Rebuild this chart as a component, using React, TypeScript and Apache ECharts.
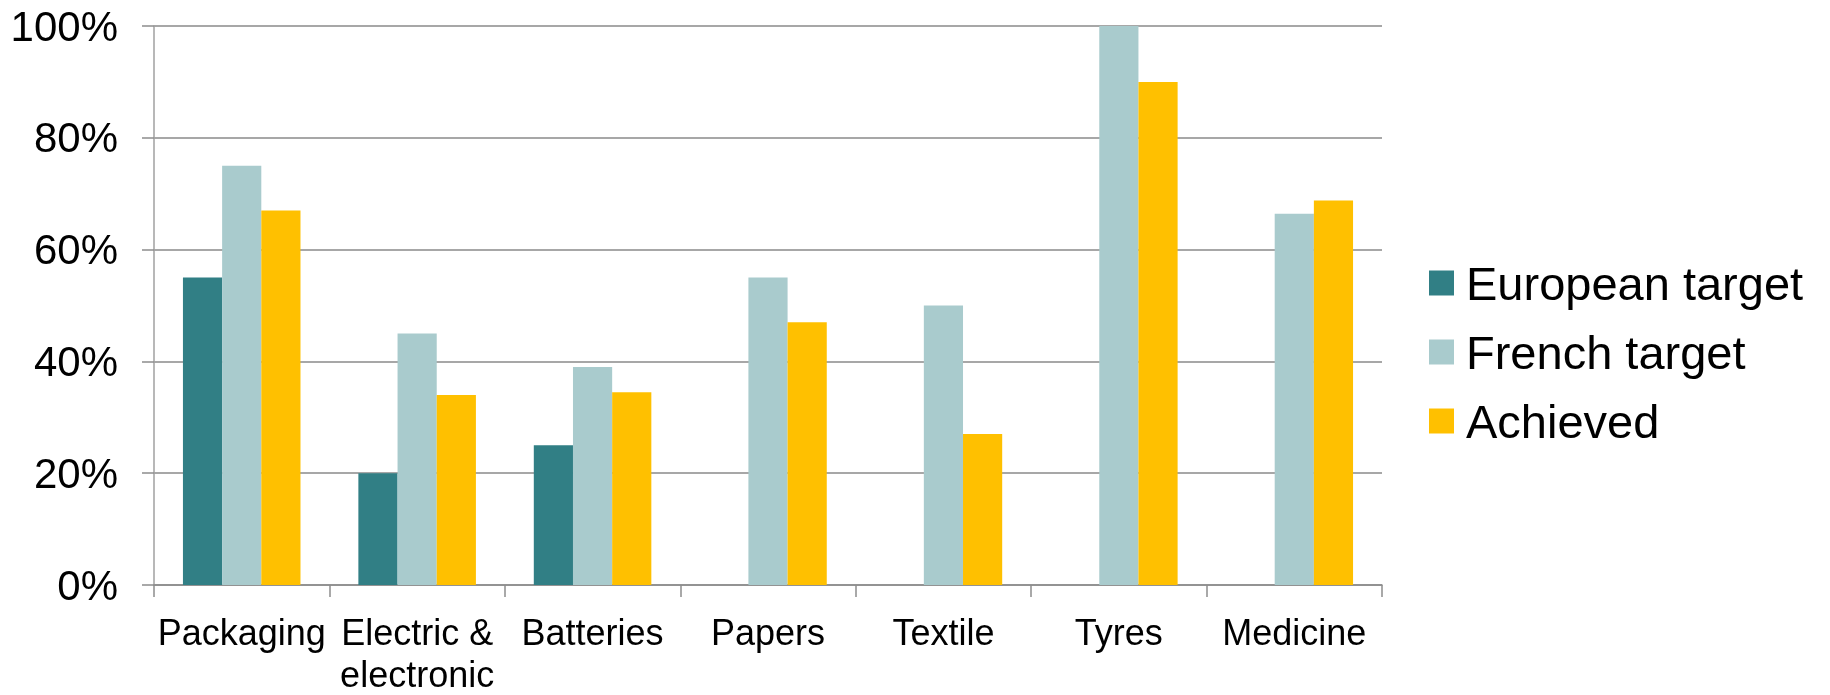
import React, { useEffect, useRef } from "react";
import * as echarts from "echarts";

const categories = ["Packaging", "Electric &\nelectronic", "Batteries", "Papers", "Textile", "Tyres", "Medicine"];
const europeanTarget = [55, 20, 25, null, null, null, null];
const frenchTarget = [75, 45, 39, 55, 50, 100, 66.4];
const achieved = [67, 34, 34.5, 47, 27, 90, 68.8];
const seriesNames = ["European target", "French target", "Achieved"];
const colors = ["#317F85", "#A9CBCD", "#FFC000"];

const FONT = "'Liberation Sans', Arial, sans-serif";

export default function App() {
  const ref = useRef<HTMLDivElement>(null);
  useEffect(() => {
    if (!ref.current) return;
    const chart = echarts.init(ref.current, null, { renderer: "svg" });
    const datasets = [europeanTarget, frenchTarget, achieved];
    chart.setOption({
      animation: false,
      textStyle: { fontFamily: FONT },
      grid: { left: 154, right: 448, top: 26, bottom: 105, containLabel: false },
      legend: {
        orient: "vertical",
        left: 1424,
        top: 253,
        itemWidth: 25,
        itemHeight: 25,
        itemGap: 19,
        icon: "rect",
        data: seriesNames,
        textStyle: { fontSize: 47, color: "#000", fontFamily: FONT, lineHeight: 50, padding: [0, 0, 0, 7] },
      },
      xAxis: {
        type: "category",
        data: categories,
        boundaryGap: true,
        axisLine: { lineStyle: { color: "#8c8c8c", width: 1.5 } },
        axisTick: { show: true, length: 12, lineStyle: { color: "#8c8c8c", width: 1.5 } },
        axisLabel: { interval: 0, fontSize: 36, color: "#000", margin: 26, lineHeight: 42, fontFamily: FONT },
      },
      yAxis: {
        type: "value",
        min: 0,
        max: 100,
        interval: 20,
        axisLine: { show: true, lineStyle: { color: "#a0a0a0", width: 1.5 } },
        axisTick: { show: true, length: 12, lineStyle: { color: "#8c8c8c", width: 1.5 } },
        axisLabel: { formatter: "{value}%", fontSize: 42, color: "#000", margin: 36, fontFamily: FONT },
        splitLine: { show: true, lineStyle: { color: "#8a8a8a", width: 1.5 } },
      },
      series: datasets.map((d, i) => ({
        name: seriesNames[i],
        type: "bar",
        data: d,
        barGap: 0,
        barCategoryGap: "33%",
        itemStyle: { color: colors[i] },
      })),
    });
    return () => chart.dispose();
  }, []);
  return <div ref={ref} style={{ position: "fixed", left: 0, top: 0, width: 1830, height: 695 }} />;
}
